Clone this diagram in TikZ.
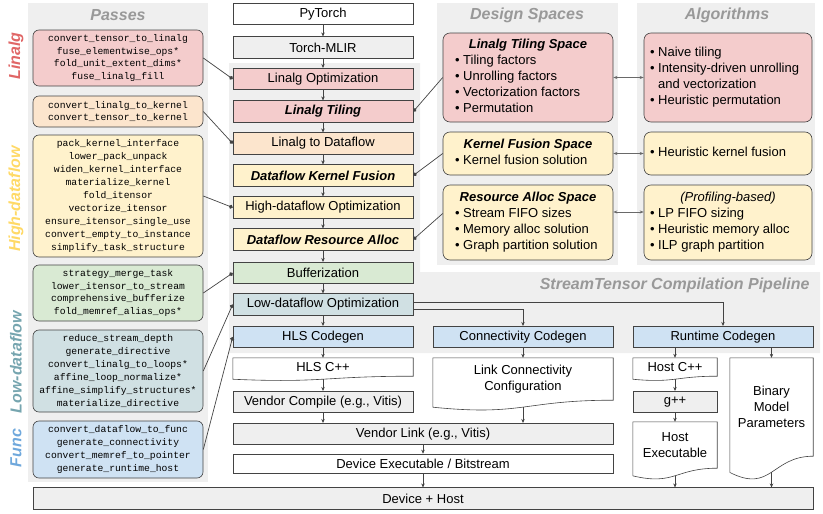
\documentclass[tikz,border=0pt]{standalone}
\usepackage{fontspec}
\setmainfont{Liberation Sans}
\setmonofont{Liberation Mono}
\usetikzlibrary{arrows.meta,calc}
\definecolor{pinkfill}{HTML}{F4CCCC}
\definecolor{orangefill}{HTML}{FCE5CD}
\definecolor{yellowfill}{HTML}{FFF2CC}
\definecolor{greenfill}{HTML}{D9EAD3}
\definecolor{tealfill}{HTML}{D0E0E3}
\definecolor{bluefill}{HTML}{CFE2F3}
\definecolor{grayfill}{HTML}{EFEFEF}
\definecolor{panelgray}{HTML}{EFEFEF}
\definecolor{edge}{HTML}{434343}
\definecolor{titlegray}{HTML}{999999}
\definecolor{linalgred}{HTML}{E06666}
\definecolor{highyellow}{HTML}{FFD966}
\definecolor{lowteal}{HTML}{76A5AF}
\definecolor{funcblue}{HTML}{6FA8DC}
\tikzset{stage/.style={draw=edge, line width=0.6pt, minimum width=180pt,
      minimum height=21.5pt, inner sep=0pt, align=center,
      font=\fontsize{13}{15.7}\selectfont}}
\tikzset{docbox/.style={inner sep=0pt, align=center,
      font=\fontsize{13}{15.7}\selectfont}}
\tikzset{passbox/.style={draw=edge, line width=0.6pt, rounded corners=6pt,
      minimum width=170pt, inner sep=0pt, align=center,
      font=\fontsize{9.7}{12.9}\selectfont\ttfamily}}
\tikzset{spacebox/.style={draw=edge, line width=0.6pt, rounded corners=7pt,
      inner sep=0pt, font=\fontsize{13}{15.9}\selectfont}}
\tikzset{paneltitle/.style={text=titlegray, font=\fontsize{16}{18}\selectfont\bfseries\itshape}}
\tikzset{sidelabel/.style={rotate=90, font=\fontsize{16}{18}\selectfont\bfseries\itshape}}
\tikzset{flow/.style={draw=edge, line width=0.6pt, -{Stealth[length=4pt,width=3.5pt]}}}
\tikzset{hook/.style={draw=edge, line width=0.7pt, -{Circle[length=4pt]}}}
\tikzset{hookback/.style={draw=edge, line width=0.7pt, {Circle[length=4pt]}-}}
\tikzset{pairs/.style={draw=edge!80, line width=0.6pt,
      {Stealth[length=4pt,width=3pt]}-{Stealth[length=4pt,width=3pt]}}}
\newcommand{\docshape}[1]{%
  \draw[draw=edge, line width=0.6pt] (#1.north west) -- (#1.north east) -- (#1.south east)
    .. controls (#1.south) and ($(#1.north)!1.38!(#1.south)$)
    .. ($(#1.north west)!1.165!(#1.south west)$) -- cycle;
  \coordinate (#1-w) at ($(#1.north)!1.163!(#1.south)$);}
\newcommand{\keyname}[1]{{\bfseries\itshape #1}}

\begin{document}
\begin{tikzpicture}[x=1pt,y=-1pt]
    \useasboundingbox (0,0) rectangle (823,514);
    % panels
    \fill[panelgray] (28,3) rectangle (208,482);
    \fill[panelgray] (229,63) -- (420,63) -- (420,272) -- (820,272) -- (820,353) -- (229,353) -- cycle;
    \fill[panelgray] (437,3) rectangle (618,265);
    \fill[panelgray] (637,3) rectangle (815,265);
    \node[paneltitle] (passtitle) at (118,15) {Passes};
    \node[paneltitle] (spacetitle) at (527,15) {Design Spaces};
    \node[paneltitle] (algotitle) at (727,15) {Algorithms};
    \node[paneltitle, anchor=east] (pipetitle) at (813,285) {StreamTensor Compilation Pipeline};
    \node[sidelabel, text=linalgred] (lbllinalg) at (16,56) {Linalg};
    \node[sidelabel, text=highyellow] (lblhigh) at (16,199) {High-dataflow};
    \node[sidelabel, text=lowteal] (lbllow) at (16,362) {Low-dataflow};
    \node[sidelabel, text=funcblue] (lblfunc) at (16,448) {Func};

    % passes
    \node[passbox, fill=pinkfill, minimum height=56pt] (linpass) at (118,58)
      {convert\_tensor\_to\_linalg\\fuse\_elementwise\_ops*\\fold\_unit\_extent\_dims*\\fuse\_linalg\_fill};
    \node[passbox, fill=orangefill, minimum height=31pt] (kernpass) at (118,111.5)
      {convert\_linalg\_to\_kernel\\convert\_tensor\_to\_kernel};
    \node[passbox, fill=yellowfill, minimum height=122pt] (highpass) at (118,196)
      {pack\_kernel\_interface\\lower\_pack\_unpack\\widen\_kernel\_interface\\materialize\_kernel\\fold\_itensor\\vectorize\_itensor\\ensure\_itensor\_single\_use\\convert\_empty\_to\_instance\\simplify\_task\_structure};
    \node[passbox, fill=greenfill, minimum height=56pt] (bufpass) at (118,293)
      {strategy\_merge\_task\\lower\_itensor\_to\_stream\\comprehensive\_bufferize\\fold\_memref\_alias\_ops*};
    \node[passbox, fill=tealfill, minimum height=82pt] (lowpass) at (118,371)
      {reduce\_stream\_depth\\generate\_directive\\convert\_linalg\_to\_loops*\\affine\_loop\_normalize*\\affine\_simplify\_structures*\\materialize\_directive};
    \node[passbox, fill=bluefill, minimum height=57pt] (funcpass) at (118,449.5)
      {convert\_dataflow\_to\_func\\generate\_connectivity\\convert\_memref\_to\_pointer\\generate\_runtime\_host};

    % pipeline
    \node[stage, fill=white] (pytorch) at (323,14) {PyTorch};
    \node[stage, fill=grayfill] (mlir) at (323,47.5) {Torch-MLIR};
    \node[stage, fill=pinkfill] (linopt) at (323,79) {Linalg Optimization};
    \node[stage, fill=pinkfill] (tiling) at (323,111.5) {\keyname{Linalg Tiling}};
    \node[stage, fill=orangefill] (todf) at (323,143.5) {Linalg to Dataflow};
    \node[stage, fill=yellowfill] (fusion) at (323,175.5) {\keyname{Dataflow Kernel Fusion}};
    \node[stage, fill=yellowfill] (hdopt) at (323,207.5) {High-dataflow Optimization};
    \node[stage, fill=yellowfill] (alloc) at (323,239.5) {\keyname{Dataflow Resource Alloc}};
    \node[stage, fill=greenfill] (buffer) at (323,273) {Bufferization};
    \node[stage, fill=tealfill] (ldopt) at (323,304.5) {Low-dataflow Optimization};
    \node[stage, fill=bluefill] (hlscg) at (323,337) {HLS Codegen};
    \node[stage, fill=bluefill] (conncg) at (523,337) {Connectivity Codegen};
    \node[stage, fill=bluefill] (rtcg) at (723,337) {Runtime Codegen};
    \node[docbox, minimum width=180pt, minimum height=18pt] (hlscpp) at (323,367) {HLS C++};
    \node[docbox, minimum width=180pt, minimum height=42pt] (linkcfg) at (523,379) {Link Connectivity\\Configuration};
    \node[docbox, minimum width=84pt, minimum height=18pt] (hostcpp) at (675,367) {Host C++};
    \node[docbox, minimum width=83pt, minimum height=98pt] (binparam) at (771.5,407) {Binary\\Model\\Parameters};
    \node[stage, fill=grayfill] (vcomp) at (323,402) {Vendor Compile (e.g., Vitis)};
    \node[stage, fill=grayfill, minimum width=84pt] (gpp) at (675,402) {g++};
    \node[docbox, minimum width=84pt, minimum height=46pt] (hostexe) at (675,445) {Host\\Executable};
    \node[stage, fill=grayfill, minimum width=380pt] (vlink) at (423,434) {Vendor Link (e.g., Vitis)};
    \node[stage, fill=white, minimum width=380pt, minimum height=19pt] (devexe) at (423,463.5) {Device Executable / Bitstream};
    \node[stage, fill=grayfill, minimum width=780pt] (devhost) at (423,498.5) {Device + Host};
    \docshape{hlscpp}
    \docshape{linkcfg}
    \docshape{hostcpp}
    \docshape{binparam}
    \docshape{hostexe}

    % design spaces and algorithms
    \node[spacebox, fill=pinkfill, minimum width=170pt, minimum height=89pt] (tilespace) at (528,77.5)
      {\begin{tabular}{@{}p{146pt}@{}}\multicolumn{1}{@{}c@{}}{\keyname{Linalg Tiling Space}}\\
       \textbullet\ Tiling factors\\ \textbullet\ Unrolling factors\\
       \textbullet\ Vectorization factors\\ \textbullet\ Permutation\end{tabular}};
    \node[spacebox, fill=yellowfill, minimum width=170pt, minimum height=43pt] (fusespace) at (528,153.5)
      {\begin{tabular}{@{}p{146pt}@{}}\multicolumn{1}{@{}c@{}}{\keyname{Kernel Fusion Space}}\\
       \textbullet\ Kernel fusion solution\end{tabular}};
    \node[spacebox, fill=yellowfill, minimum width=170pt, minimum height=75pt] (allocspace) at (528,222.5)
      {\begin{tabular}{@{}p{146pt}@{}}\multicolumn{1}{@{}c@{}}{\keyname{Resource Alloc Space}}\\
       \textbullet\ Stream FIFO sizes\\ \textbullet\ Memory alloc solution\\
       \textbullet\ Graph partition solution\end{tabular}};
    \node[spacebox, fill=pinkfill, minimum width=168pt, minimum height=89pt] (tilealgo) at (728,77.5)
      {\begin{tabular}{@{}p{156pt}@{}}\textbullet\ Naive tiling\\
       \textbullet\ Intensity-driven unrolling\\ \phantom{\textbullet\ }and vectorization\\
       \textbullet\ Heuristic permutation\end{tabular}};
    \node[spacebox, fill=yellowfill, minimum width=168pt, minimum height=43pt] (fusealgo) at (728,153.5)
      {\begin{tabular}{@{}p{156pt}@{}}\textbullet\ Heuristic kernel fusion\end{tabular}};
    \node[spacebox, fill=yellowfill, minimum width=168pt, minimum height=75pt] (allocalgo) at (728,222.5)
      {\begin{tabular}{@{}p{156pt}@{}}\multicolumn{1}{@{}c@{}}{\itshape (Profiling-based)}\\
       \textbullet\ LP FIFO sizing\\ \textbullet\ Heuristic memory alloc\\
       \textbullet\ ILP graph partition\end{tabular}};

    % main flow
    \foreach \a/\b in {pytorch/mlir, mlir/linopt, linopt/tiling, tiling/todf, todf/fusion,
        fusion/hdopt, hdopt/alloc, alloc/buffer, buffer/ldopt, ldopt/hlscg, hlscg/hlscpp,
        conncg/linkcfg, hostcpp-w/gpp, gpp/hostexe, vlink/devexe, devexe/devhost}
      \draw[flow] (\a) -- (\b);
    \draw[flow] ([yshift=1.8pt]ldopt.east) -| (rtcg.north);
    \draw[flow] ([yshift=-4.5pt]ldopt.east) -| (conncg.north);
    \draw[flow] (hlscpp-w) -- (vcomp);
    \draw[flow] (rtcg.south -| hostcpp) -- (hostcpp.north);
    \draw[flow] (rtcg.south -| binparam) -- (binparam.north);
    \draw[flow] (vcomp) -- (vcomp |- vlink.north);
    \draw[flow] (linkcfg-w) -- (linkcfg-w |- vlink.north);
    \draw[flow] (hostexe-w) -- (hostexe-w |- devhost.north);
    \draw[flow] (binparam-w) -- (binparam-w |- devhost.north);

    % passes to stages
    \draw[hook] (linpass.east) -- (linopt.west);
    \draw[hook] (kernpass.east) -- (todf.west);
    \draw[hook] (highpass.east) -- (hdopt.west);
    \draw[hook] (bufpass.east) -- (buffer.west);
    \draw[hook] (lowpass.east) -- (ldopt.west);
    \draw[hook] (funcpass.east) -- (hlscg.west);

    % stages to design spaces
    \draw[hookback] (tiling.east) -- (tilespace.west);
    \draw[hookback] (fusion.east) -- (fusespace.west);
    \draw[hookback] (alloc.east) -- ([yshift=9pt]allocspace.west);
    \draw[pairs] (tilespace) -- (tilealgo);
    \draw[pairs] (fusespace) -- (fusealgo);
    \draw[pairs] ([yshift=10.5pt]allocspace.east) -- ([yshift=10.5pt]allocalgo.west);
  \end{tikzpicture}
\end{document}
